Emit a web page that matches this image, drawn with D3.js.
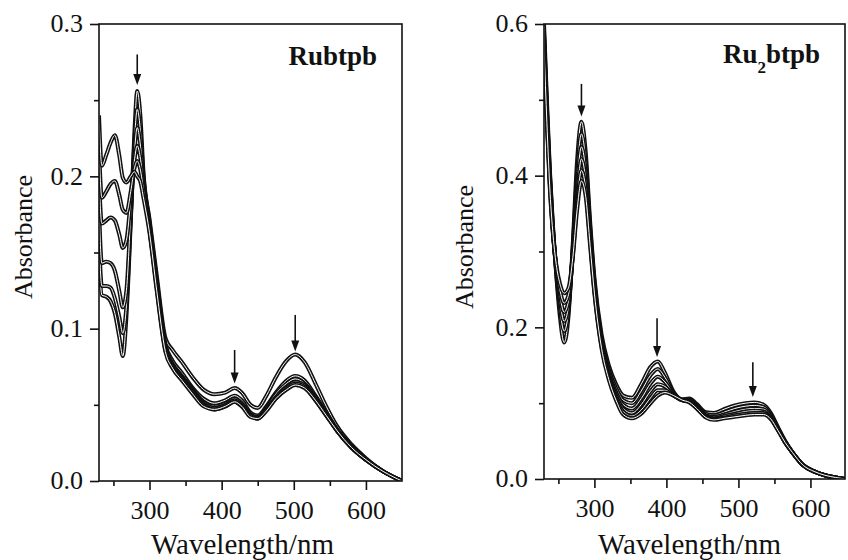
<!DOCTYPE html>
<html>
<head>
<meta charset="utf-8">
<script src="https://cdn.jsdelivr.net/npm/d3@7"></script>
<style>
  body { margin: 0; background: #fff; }
  svg { display: block; }
</style>
</head>
<body>
<svg id="chart" width="848" height="560"></svg>
<script>
// ---- Rubtpb: absorbance spectra recorded during the titration ----
const wavelengthsRubtpb = [230, 234, 240, 246, 252, 258, 263, 268, 274, 279, 283, 287, 292, 300, 310, 322, 332, 345, 360, 375, 390, 405, 418, 428, 440, 450, 462, 475, 490, 502, 515, 530, 545, 560, 580, 600, 625, 650];
const rubtpbSpectra = [
  [0.150, 0.122, 0.121, 0.118, 0.110, 0.095, 0.082, 0.108, 0.170, 0.228, 0.256, 0.242, 0.200, 0.172, 0.135, 0.094, 0.086, 0.078, 0.068, 0.060, 0.057, 0.058, 0.061, 0.058, 0.050, 0.048, 0.056, 0.068, 0.079, 0.083, 0.078, 0.064, 0.049, 0.036, 0.024, 0.015, 0.006, 0.000],
  [0.160, 0.128, 0.128, 0.127, 0.120, 0.108, 0.097, 0.115, 0.172, 0.222, 0.244, 0.232, 0.198, 0.170, 0.132, 0.090, 0.079, 0.071, 0.061, 0.054, 0.051, 0.053, 0.056, 0.053, 0.045, 0.043, 0.049, 0.058, 0.066, 0.069, 0.066, 0.056, 0.045, 0.034, 0.023, 0.014, 0.006, 0.000],
  [0.180, 0.143, 0.144, 0.143, 0.138, 0.125, 0.114, 0.125, 0.175, 0.215, 0.232, 0.222, 0.196, 0.168, 0.130, 0.088, 0.077, 0.069, 0.060, 0.052, 0.049, 0.051, 0.054, 0.051, 0.044, 0.042, 0.048, 0.057, 0.064, 0.067, 0.064, 0.055, 0.044, 0.033, 0.022, 0.014, 0.006, 0.000],
  [0.200, 0.169, 0.171, 0.173, 0.171, 0.162, 0.153, 0.158, 0.185, 0.210, 0.220, 0.213, 0.193, 0.166, 0.128, 0.087, 0.076, 0.068, 0.059, 0.051, 0.048, 0.050, 0.053, 0.050, 0.043, 0.041, 0.047, 0.055, 0.062, 0.065, 0.063, 0.054, 0.044, 0.033, 0.022, 0.014, 0.006, 0.000],
  [0.220, 0.186, 0.190, 0.195, 0.197, 0.188, 0.178, 0.176, 0.190, 0.205, 0.210, 0.205, 0.190, 0.165, 0.127, 0.086, 0.075, 0.067, 0.058, 0.050, 0.047, 0.049, 0.052, 0.049, 0.043, 0.041, 0.047, 0.054, 0.061, 0.064, 0.062, 0.053, 0.043, 0.033, 0.022, 0.014, 0.006, 0.000],
  [0.240, 0.207, 0.214, 0.222, 0.227, 0.214, 0.199, 0.196, 0.200, 0.203, 0.200, 0.197, 0.185, 0.163, 0.125, 0.085, 0.074, 0.066, 0.057, 0.049, 0.047, 0.049, 0.052, 0.049, 0.042, 0.041, 0.046, 0.054, 0.060, 0.063, 0.061, 0.053, 0.043, 0.033, 0.022, 0.014, 0.006, 0.000]
];
const rubtpbArrows = [
  { nm: 283, from: 0.280, to: 0.260 },
  { nm: 418, from: 0.086, to: 0.064 },
  { nm: 502, from: 0.109, to: 0.085 }
];

// ---- Ru2btpb ----
const wavelengthsRu2btpb = [230, 234, 238, 242, 247, 252, 258, 264, 270, 276, 282, 288, 294, 300, 310, 320, 330, 340, 352, 365, 378, 388, 398, 410, 422, 432, 442, 455, 466, 480, 495, 510, 522, 535, 545, 555, 565, 575, 590, 605, 620, 635, 648];
const ru2btpbSpectra = [
  [0.600, 0.500, 0.410, 0.340, 0.270, 0.215, 0.180, 0.215, 0.310, 0.420, 0.471, 0.430, 0.340, 0.265, 0.190, 0.150, 0.125, 0.110, 0.107, 0.125, 0.148, 0.155, 0.140, 0.115, 0.105, 0.106, 0.099, 0.088, 0.087, 0.092, 0.097, 0.100, 0.101, 0.098, 0.087, 0.068, 0.050, 0.035, 0.018, 0.010, 0.005, 0.002, 0.000],
  [0.590, 0.490, 0.405, 0.337, 0.272, 0.225, 0.195, 0.222, 0.305, 0.405, 0.455, 0.418, 0.333, 0.260, 0.185, 0.145, 0.120, 0.104, 0.100, 0.116, 0.137, 0.145, 0.134, 0.113, 0.105, 0.105, 0.097, 0.086, 0.084, 0.088, 0.093, 0.096, 0.097, 0.095, 0.085, 0.067, 0.049, 0.035, 0.018, 0.010, 0.005, 0.002, 0.000],
  [0.585, 0.485, 0.400, 0.335, 0.275, 0.235, 0.208, 0.228, 0.300, 0.390, 0.438, 0.405, 0.326, 0.256, 0.181, 0.140, 0.115, 0.098, 0.093, 0.106, 0.126, 0.135, 0.128, 0.112, 0.104, 0.104, 0.096, 0.084, 0.082, 0.085, 0.089, 0.092, 0.093, 0.092, 0.083, 0.066, 0.049, 0.035, 0.018, 0.010, 0.005, 0.002, 0.000],
  [0.580, 0.480, 0.395, 0.333, 0.278, 0.243, 0.220, 0.235, 0.298, 0.375, 0.422, 0.393, 0.320, 0.252, 0.178, 0.137, 0.111, 0.093, 0.087, 0.098, 0.116, 0.125, 0.122, 0.111, 0.104, 0.103, 0.095, 0.083, 0.080, 0.083, 0.086, 0.089, 0.090, 0.089, 0.081, 0.065, 0.048, 0.035, 0.018, 0.010, 0.005, 0.002, 0.000],
  [0.575, 0.475, 0.390, 0.330, 0.280, 0.250, 0.232, 0.243, 0.295, 0.365, 0.407, 0.382, 0.314, 0.248, 0.175, 0.134, 0.107, 0.089, 0.083, 0.091, 0.107, 0.117, 0.117, 0.110, 0.104, 0.102, 0.094, 0.082, 0.079, 0.081, 0.084, 0.086, 0.087, 0.087, 0.080, 0.065, 0.048, 0.035, 0.018, 0.010, 0.005, 0.002, 0.000],
  [0.570, 0.470, 0.385, 0.328, 0.283, 0.258, 0.245, 0.252, 0.292, 0.355, 0.393, 0.372, 0.308, 0.245, 0.172, 0.131, 0.104, 0.085, 0.080, 0.086, 0.100, 0.110, 0.114, 0.110, 0.104, 0.101, 0.093, 0.081, 0.078, 0.080, 0.082, 0.084, 0.085, 0.085, 0.079, 0.064, 0.048, 0.035, 0.018, 0.010, 0.005, 0.002, 0.000]
];
const ru2btpbArrows = [
  { nm: 282, from: 0.521, to: 0.478 },
  { nm: 387, from: 0.212, to: 0.161 },
  { nm: 520, from: 0.154, to: 0.108 }
];

// ---- Axis ticks ----
const xMajorTicks = [300, 400, 500, 600];
const xMinorTicks = [250, 350, 450, 550];
const rubtpbYMajor = [0.0, 0.1, 0.2, 0.3];
const rubtpbYMinor = [0.05, 0.15, 0.25];
const ru2btpbYMajor = [0.0, 0.2, 0.4, 0.6];
const ru2btpbYMinor = [0.1, 0.3, 0.5];

const FONT = "'Liberation Serif', 'Times New Roman', serif";
const INK = "#111";
const svg = d3.select("#chart");

function drawPanel(cfg) {
  const x = d3.scaleLinear().domain(cfg.xDomain).range([cfg.left, cfg.right]);
  const y = d3.scaleLinear().domain(cfg.yDomain).range([cfg.bottom, cfg.top]);
  const g = svg.append("g");

  const clipId = "clip-" + cfg.id;
  svg.append("clipPath").attr("id", clipId)
    .append("rect")
    .attr("x", cfg.left).attr("y", cfg.top)
    .attr("width", cfg.right - cfg.left).attr("height", cfg.bottom - cfg.top);

  // spectra: dark outline with a thin white core
  const line = d3.line()
    .x((d, i) => x(cfg.wavelengths[i]))
    .y(d => y(d))
    .curve(d3.curveMonotoneX);
  const curves = g.append("g").attr("clip-path", `url(#${clipId})`);
  cfg.spectra.forEach(s => {
    curves.append("path").attr("d", line(s))
      .attr("fill", "none").attr("stroke", INK).attr("stroke-width", 4)
      .attr("stroke-linejoin", "round");
    curves.append("path").attr("d", line(s))
      .attr("fill", "none").attr("stroke", "#fff").attr("stroke-width", 1)
      .attr("stroke-linejoin", "round");
  });

  // frame
  g.append("rect")
    .attr("x", cfg.left).attr("y", cfg.top)
    .attr("width", cfg.right - cfg.left).attr("height", cfg.bottom - cfg.top)
    .attr("fill", "none").attr("stroke", INK).attr("stroke-width", 1.6);

  // bottom axis
  const xAxis = d3.axisBottom(x).tickValues(xMajorTicks).tickSize(9).tickPadding(10)
    .tickFormat(d3.format("d"));
  const xa = g.append("g").attr("transform", `translate(0,${cfg.bottom})`).call(xAxis);
  const xAxisMinor = d3.axisBottom(x).tickValues(xMinorTicks).tickSize(5).tickFormat("");
  const xm = g.append("g").attr("transform", `translate(0,${cfg.bottom})`).call(xAxisMinor);

  // left axis
  const yAxis = d3.axisLeft(y).tickValues(cfg.yMajor).tickSize(9).tickPadding(7)
    .tickFormat(d3.format(".1f"));
  const ya = g.append("g").attr("transform", `translate(${cfg.left},0)`).call(yAxis);
  const yAxisMinor = d3.axisLeft(y).tickValues(cfg.yMinor).tickSize(5).tickFormat("");
  const ym = g.append("g").attr("transform", `translate(${cfg.left},0)`).call(yAxisMinor);

  [xa, xm, ya, ym].forEach(a => {
    a.select(".domain").remove();
    a.selectAll(".tick line").attr("stroke", INK).attr("stroke-width", 1.6);
    a.selectAll(".tick text")
      .attr("font-family", FONT).attr("font-size", 26).attr("fill", INK);
  });
  ya.selectAll(".tick text").attr("dy", "0.3em");
  xa.selectAll(".tick text").attr("dy", "0.72em");

  // axis titles
  g.append("text")
    .attr("x", (cfg.left + cfg.right) / 2 + cfg.xTitleShift).attr("y", 554)
    .attr("text-anchor", "middle")
    .attr("font-family", FONT).attr("font-size", 29).attr("fill", INK)
    .text("Wavelength/nm");
  g.append("text")
    .attr("transform", `translate(${cfg.yTitleX},${cfg.yTitleY}) rotate(-90)`)
    .attr("text-anchor", "middle")
    .attr("font-family", FONT).attr("font-size", 26).attr("fill", INK)
    .text("Absorbance");

  // compound label
  const lab = g.append("text")
    .attr("x", cfg.right - 25).attr("y", cfg.labelY)
    .attr("text-anchor", "end")
    .attr("font-family", FONT).attr("font-weight", "bold").attr("font-size", 27).attr("fill", INK);
  cfg.label.forEach(part => {
    const t = lab.append("tspan").text(part.text);
    if (part.sub) t.attr("font-size", 17).attr("dy", 10);
    if (part.after) t.attr("dy", -10);
  });

  // arrows marking the decreasing bands
  cfg.arrows.forEach(a => {
    const ax = x(a.nm), y0 = y(a.from), y1 = y(a.to);
    g.append("line").attr("x1", ax).attr("x2", ax).attr("y1", y0).attr("y2", y1 - 8)
      .attr("stroke", INK).attr("stroke-width", 1.6);
    g.append("path")
      .attr("d", `M${ax - 4},${y1 - 11} L${ax + 4},${y1 - 11} L${ax},${y1} Z`)
      .attr("fill", INK);
  });
}

drawPanel({
  id: "rubtpb",
  left: 99, right: 402, top: 24, bottom: 481,
  xDomain: [230, 650], yDomain: [0, 0.3],
  yMajor: rubtpbYMajor, yMinor: rubtpbYMinor,
  wavelengths: wavelengthsRubtpb, spectra: rubtpbSpectra, arrows: rubtpbArrows,
  label: [{ text: "Rubtpb" }], labelY: 65,
  yTitleX: 32, yTitleY: 237, xTitleShift: -8
});

drawPanel({
  id: "ru2btpb",
  left: 544, right: 845, top: 24, bottom: 479,
  xDomain: [230, 648], yDomain: [0, 0.6],
  yMajor: ru2btpbYMajor, yMinor: ru2btpbYMinor,
  wavelengths: wavelengthsRu2btpb, spectra: ru2btpbSpectra, arrows: ru2btpbArrows,
  label: [{ text: "Ru" }, { text: "2", sub: true }, { text: "btpb", after: true }], labelY: 63,
  yTitleX: 473, yTitleY: 247, xTitleShift: -5
});
</script>
</body>
</html>
